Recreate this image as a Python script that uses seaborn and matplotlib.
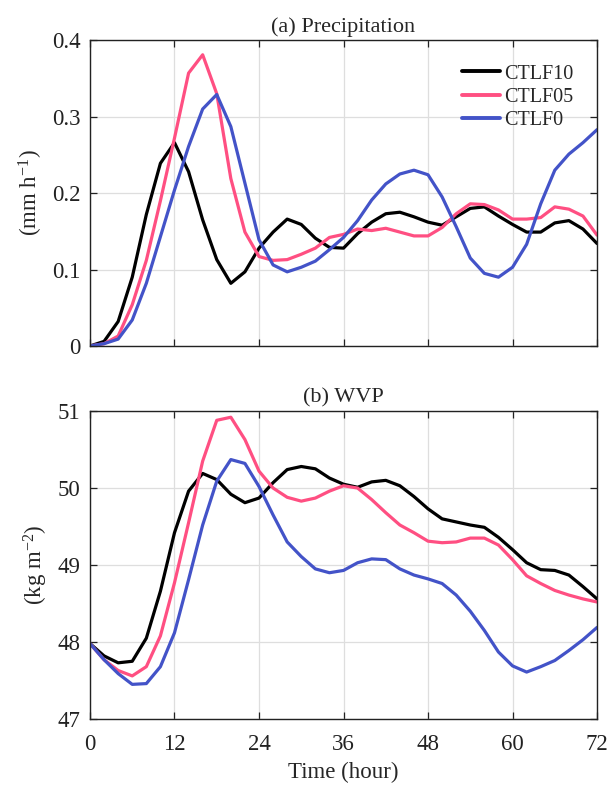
import numpy as np
import pandas as pd
import matplotlib
matplotlib.use("Agg")
import matplotlib.pyplot as plt
import seaborn as sns

hours = list(range(0, 73, 2))
series_names = ["CTLF10", "CTLF05", "CTLF0"]
colors = ["#000000", "#FF4F82", "#4353C8"]

precip_ctlf10 = [0.0, 0.006, 0.032, 0.09, 0.172, 0.239, 0.266, 0.228, 0.165, 0.113, 0.082, 0.097, 0.128,
                 0.149, 0.166, 0.159, 0.141, 0.129, 0.128, 0.147, 0.162, 0.173, 0.175, 0.169, 0.162,
                 0.158, 0.169, 0.18, 0.182, 0.170, 0.159, 0.149, 0.149, 0.161, 0.164, 0.153, 0.134]
precip_ctlf05 = [0.0, 0.003, 0.013, 0.054, 0.112, 0.19, 0.272, 0.357, 0.381, 0.33, 0.219, 0.149, 0.117,
                 0.112, 0.113, 0.12, 0.128, 0.142, 0.146, 0.153, 0.151, 0.154, 0.149, 0.144, 0.144,
                 0.155, 0.173, 0.186, 0.185, 0.178, 0.166, 0.166, 0.168, 0.182, 0.179, 0.170, 0.145]
precip_ctlf0 = [0.0, 0.003, 0.009, 0.034, 0.082, 0.143, 0.204, 0.261, 0.31, 0.329, 0.287, 0.213, 0.139,
                0.106, 0.097, 0.103, 0.111, 0.126, 0.142, 0.164, 0.191, 0.212, 0.225, 0.23, 0.224,
                0.195, 0.156, 0.115, 0.095, 0.09, 0.103, 0.133, 0.186, 0.23, 0.251, 0.266, 0.283]

wvp_ctlf10 = [47.98, 47.82, 47.73, 47.75, 48.05, 48.66, 49.42, 49.96, 50.19, 50.11, 49.92, 49.81, 49.87,
              50.07, 50.24, 50.28, 50.25, 50.13, 50.05, 50.01, 50.08, 50.10, 50.03, 49.89, 49.73,
              49.60, 49.56, 49.52, 49.49, 49.36, 49.20, 49.03, 48.94, 48.93, 48.87, 48.72, 48.56]
wvp_ctlf05 = [47.98, 47.77, 47.63, 47.56, 47.68, 48.08, 48.77, 49.55, 50.35, 50.88, 50.92, 50.63, 50.22,
              50.0, 49.88, 49.83, 49.87, 49.96, 50.03, 50.0, 49.85, 49.68, 49.52, 49.42, 49.31,
              49.29, 49.30, 49.35, 49.35, 49.26, 49.07, 48.86, 48.76, 48.67, 48.61, 48.56, 48.52]
wvp_ctlf0 = [47.98, 47.77, 47.59, 47.45, 47.46, 47.68, 48.12, 48.81, 49.52, 50.09, 50.37, 50.32, 50.02,
             49.65, 49.30, 49.11, 48.95, 48.90, 48.93, 49.03, 49.08, 49.07, 48.95, 48.87, 48.82,
             48.76, 48.61, 48.40, 48.15, 47.87, 47.69, 47.61, 47.68, 47.76, 47.89, 48.03, 48.19]

x_ticks = [0, 12, 24, 36, 48, 60, 72]
precip_ticks = [0, 0.1, 0.2, 0.3, 0.4]
precip_ticklabels = ["0", "0.1", "0.2", "0.3", "0.4"]
wvp_ticks = [47, 48, 49, 50, 51]


def long_df(values_list):
    frames = []
    for name, vals in zip(series_names, values_list):
        frames.append(pd.DataFrame({"hour": hours, "value": vals, "run": name}))
    return pd.concat(frames, ignore_index=True)


df_p = long_df([precip_ctlf10, precip_ctlf05, precip_ctlf0])
df_w = long_df([wvp_ctlf10, wvp_ctlf05, wvp_ctlf0])

sns.set_theme(style="white")
plt.rcParams["font.family"] = ["Liberation Serif", "DejaVu Serif"]
plt.rcParams["mathtext.fontset"] = "custom"
plt.rcParams["mathtext.rm"] = "Liberation Serif"
plt.rcParams["mathtext.it"] = "Liberation Serif:italic"

fig = plt.figure(figsize=(6.08, 7.89), dpi=100)
ax1 = fig.add_axes([0.148, 0.5615, 0.834, 0.3875])
ax2 = fig.add_axes([0.148, 0.0887, 0.834, 0.3903])

palette = dict(zip(series_names, colors))

sns.lineplot(data=df_p, x="hour", y="value", hue="run", hue_order=series_names,
             palette=palette, linewidth=2.3, ax=ax1)
sns.lineplot(data=df_w, x="hour", y="value", hue="run", hue_order=series_names,
             palette=palette, linewidth=2.3, ax=ax2, legend=False)

FS = 16.5
for ax, yt, ylim, ylab, title in [
    (ax1, precip_ticks, (0, 0.4), "(mm h$^{-1}$)", "(a) Precipitation"),
    (ax2, wvp_ticks, (47, 51), "(kg m$^{-2}$)", "(b) WVP"),
]:
    ax.set_xlim(0, 72)
    ax.set_ylim(*ylim)
    ax.set_xticks(x_ticks)
    ax.set_yticks(yt)
    ax.grid(True, color="#dedede", linewidth=0.9)
    ax.set_axisbelow(True)
    for s in ax.spines.values():
        s.set_visible(True)
        s.set_color("#222222")
        s.set_linewidth(1.0)
    ax.tick_params(direction="in", length=5, width=0.9, labelsize=FS, colors="#222222",
                   top=True, right=True, bottom=True, left=True)
    ax.tick_params(axis="y", pad=7)
    ax.tick_params(axis="x", pad=11)
    ax.set_ylabel(ylab, fontsize=FS, labelpad=5)
    ax.set_title(title, fontsize=16, pad=6)
    ax.set_xlabel("")

ax1.set_yticklabels(precip_ticklabels)
ax1.set_xticklabels([])
ax2.set_xlabel("Time (hour)", fontsize=FS, labelpad=5)

leg = ax1.legend(loc="upper right", frameon=False, fontsize=14.5, handlelength=1.85,
                 handletextpad=0.2, labelspacing=0.2, borderaxespad=0.8)
for line in leg.get_lines():
    line.set_linewidth(2.8)

fig.savefig("out.png", dpi=100)
